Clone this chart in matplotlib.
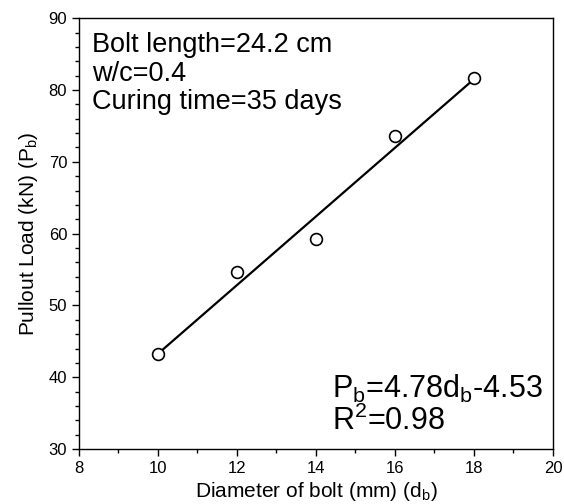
import numpy as np
import matplotlib
matplotlib.use("Agg")
import matplotlib.pyplot as plt
from matplotlib.ticker import MultipleLocator

plt.rcParams['font.family'] = ['Liberation Sans', 'DejaVu Sans']
plt.rcParams['mathtext.fontset'] = 'custom'
plt.rcParams['mathtext.rm'] = 'Liberation Sans'
plt.rcParams['mathtext.it'] = 'Liberation Sans'

# Data
diameter = [10, 12, 14, 16, 18]
pullout_load = [43.3, 54.7, 59.2, 73.6, 81.6]

# Fitted line as printed on the chart
slope = 4.78
intercept = -4.53

fig = plt.figure(figsize=(5.64, 5.04), dpi=100)
ax = fig.add_axes([0.140, 0.109, 0.8405, 0.855])

x_fit = np.array([min(diameter), max(diameter)])
ax.plot(x_fit, slope * x_fit + intercept, color='black', lw=1.6, zorder=2)
ax.plot(diameter, pullout_load, 'o', mfc='white', mec='black', ms=8.5, mew=1.2, zorder=3)

ax.set_xlim(8, 20)
ax.set_ylim(30, 90)
ax.xaxis.set_major_locator(MultipleLocator(2))
ax.xaxis.set_minor_locator(MultipleLocator(1))
ax.yaxis.set_major_locator(MultipleLocator(10))
ax.yaxis.set_minor_locator(MultipleLocator(2))
ax.tick_params(which='both', direction='out', top=False, right=False, labelsize=12, width=1)
ax.tick_params(which='major', length=5)
ax.tick_params(which='minor', length=3)
for sp in ax.spines.values():
    sp.set_linewidth(1)

ax.set_xlabel('Diameter of bolt (mm) (d$_{\\mathrm{b}}$)', fontsize=15, labelpad=3)
ax.set_ylabel('Pullout Load (kN) (P$_{\\mathrm{b}}$)', fontsize=15, labelpad=6)

ax.text(0.028, 0.967, 'Bolt length=24.2 cm\nw/c=0.4\nCuring time=35 days',
        transform=ax.transAxes, ha='left', va='top', fontsize=19.5, linespacing=1.12)
ax.text(0.533, 0.118, 'P$_{\\mathrm{b}}$=4.78d$_{\\mathrm{b}}$-4.53',
        transform=ax.transAxes, ha='left', va='baseline', fontsize=22)
ax.text(0.533, 0.044, 'R$^{2}$=0.98',
        transform=ax.transAxes, ha='left', va='baseline', fontsize=22)

fig.savefig('out.png', dpi=100)
